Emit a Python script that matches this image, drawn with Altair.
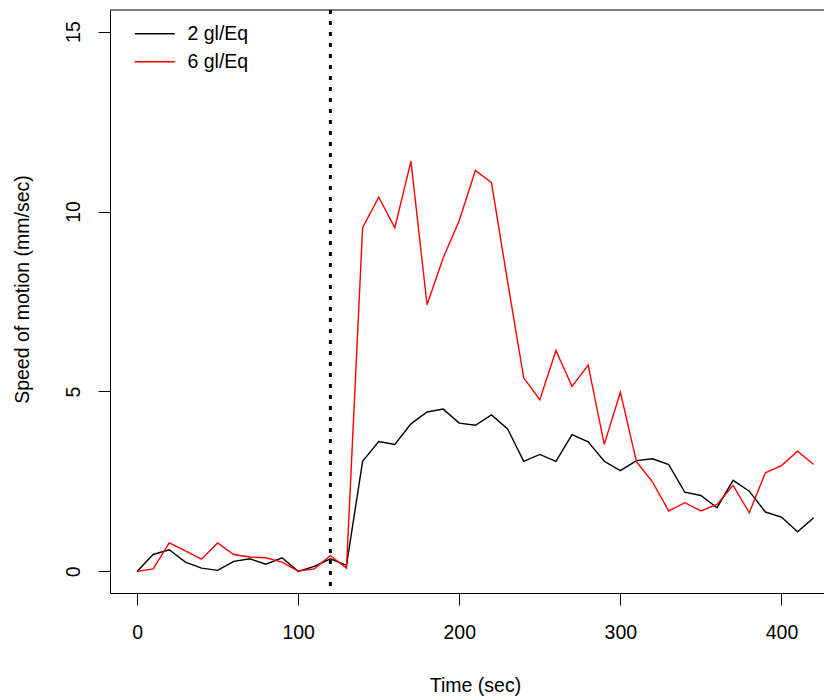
import altair as alt
import pandas as pd

# ---- data ----
times = [0, 10, 20, 30, 40, 50, 60, 70, 80, 90, 100, 110, 120, 130, 140, 150, 160,
         170, 180, 190, 200, 210, 220, 230, 240, 250, 260, 270, 280, 290, 300, 310,
         320, 330, 340, 350, 360, 370, 380, 390, 400, 410, 420]
speed_2 = [0.0, 0.47, 0.6, 0.26, 0.09, 0.03, 0.28, 0.35, 0.2, 0.38, 0.0, 0.14, 0.35,
           0.17, 3.06, 3.61, 3.53, 4.1, 4.43, 4.51, 4.12, 4.06, 4.35, 3.96, 3.06, 3.25,
           3.06, 3.8, 3.6, 3.06, 2.8, 3.08, 3.13, 2.97, 2.2, 2.11, 1.77, 2.53, 2.23,
           1.65, 1.51, 1.1, 1.49]
speed_6 = [0.0, 0.07, 0.79, 0.57, 0.34, 0.79, 0.47, 0.4, 0.38, 0.26, 0.01, 0.07, 0.44,
           0.09, 9.55, 10.4, 9.55, 11.4, 7.41, 8.71, 9.75, 11.14, 10.8, 8.05, 5.38, 4.77,
           6.14, 5.14, 5.73, 3.53, 4.98, 3.05, 2.48, 1.68, 1.91, 1.68, 1.86, 2.39, 1.63,
           2.74, 2.94, 3.34, 2.97]
series = ["2 gl/Eq", "6 gl/Eq"]
series_colors = ["#000000", "#ff0000"]
stimulus_time = [120]
x_ticks = [0, 100, 200, 300, 400]
y_ticks = [0, 5, 10, 15]

df = pd.DataFrame({
    "time": times + times,
    "speed": speed_2 + speed_6,
    "series": [series[0]] * len(times) + [series[1]] * len(times),
})
df_rule = pd.DataFrame({"time": stimulus_time})

W, H = 714, 583
FONT = "Liberation Sans"
FS = 19.5

xscale = alt.Scale(domain=[-16.8, 426.4], nice=False, zero=False)
yscale = alt.Scale(domain=[-0.6, 15.6], nice=False, zero=False)

x_axis = alt.Axis(values=x_ticks, title="Time (sec)", grid=False, tickSize=12,
                  labelPadding=18, labelBaseline="top", labelFontSize=FS,
                  titleFontSize=FS, titleX=365, titleY=92, titleBaseline="middle",
                  titleAlign="center", labelFlush=False, labelOverlap=False)
y_axis = alt.Axis(values=y_ticks, title="Speed of motion (mm/sec)", grid=False,
                  tickSize=12, labelAngle=270, labelAlign="center",
                  labelBaseline="middle", labelPadding=24.4, labelFontSize=FS,
                  titleFontSize=FS, titleAngle=270, titleX=-87.5, titleY=279,
                  titleBaseline="middle", titleAlign="center", labelFlush=False,
                  labelOverlap=False)

lines = alt.Chart(df).mark_line(strokeWidth=1.4).encode(
    x=alt.X("time:Q", scale=xscale, axis=x_axis),
    y=alt.Y("speed:Q", scale=yscale, axis=y_axis),
    color=alt.Color("series:N",
                    scale=alt.Scale(domain=series, range=series_colors),
                    legend=alt.Legend(orient="none", legendX=35, legendY=14,
                                      title=None, symbolType="M-4,0H4",
                                      symbolSize=100, symbolStrokeWidth=1.5,
                                      labelFontSize=FS, labelFont=FONT,
                                      labelOffset=23, rowPadding=7, padding=0,
                                      labelColor="#000000")),
)

vline = alt.Chart(df_rule).mark_rule(color="#000000", strokeWidth=3,
                                     strokeDash=[4, 7]).encode(
    x=alt.X("time:Q", scale=xscale)
)

top_border = alt.Chart(df_rule).mark_rule(color="#000000", strokeWidth=1).encode(
    x=alt.value(0), x2=alt.value(W), y=alt.value(0)
)

chart = alt.layer(vline, lines, top_border).properties(
    width=W, height=H,
    padding={"left": 102, "top": 2, "right": 0, "bottom": 103},
    autosize=alt.AutoSizeParams(type="none"),
).configure_view(stroke=None).configure_axis(
    labelFont=FONT, titleFont=FONT, labelColor="#000000", titleColor="#000000",
    domainColor="#000000", tickColor="#000000", domainWidth=1, tickWidth=1,
    titleFontWeight="normal",
)

chart.save("out.html", embed_options={"renderer": "svg", "actions": False})
